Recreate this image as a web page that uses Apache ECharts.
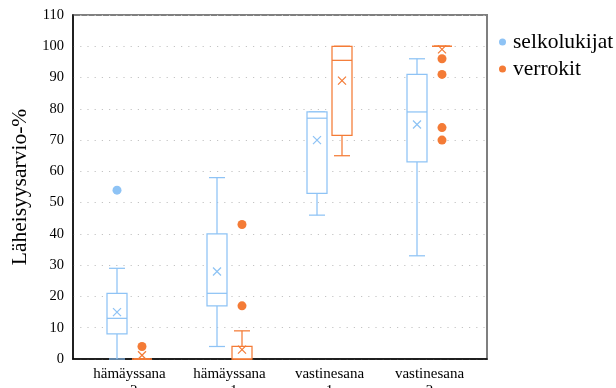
<!DOCTYPE html>
<html><head><meta charset="utf-8">
<script src="https://cdn.jsdelivr.net/npm/echarts@6/dist/echarts.min.js"></script>
<style>html,body{margin:0;padding:0;background:#fff}#c{width:616px;height:388px}</style>
</head><body><div id="c"></div>
<script>
// ---- data ----
const categories = ['hämäyssana\n−2', 'hämäyssana\n−1', 'vastinesana\n1', 'vastinesana\n2'];
const seriesNames = ['selkolukijat', 'verrokit'];
// [min, Q1, median, Q3, max]
const selkoBox = [[0, 8, 13, 21, 29], [4, 17, 21, 40, 58], [46, 53, 77, 79, 79], [33, 63, 79, 91, 96]];
const selkoMean = [15, 28, 70, 75];
const selkoOutliers = [[0, 54]];
const verrokitBox = [[0, 0, 0, 0, 0], [0, 0, 0, 4, 9], [65, 71.5, 95.5, 100, 100], [100, 100, 100, 100, 100]];
const verrokitMean = [1.2, 3, 89, 99];
const verrokitOutliers = [[0, 4], [1, 17], [1, 43], [3, 96], [3, 91], [3, 74], [3, 70]];
const yTicks = { min: 0, max: 110, interval: 10 };

// ---- style ----
const BLUE = '#8EC3F5', ORANGE = '#F47B36';
const FONT = '"Liberation Serif","Times New Roman",serif';

function boxData(box, mean) { return box.map((b, i) => [i].concat(b, [mean[i]])); }

function boxSeries(name, box, mean, color, offset) {
  return {
    type: 'custom', name: name, data: boxData(box, mean),
    encode: { x: 0, y: [1, 2, 3, 4, 5, 6] },
    itemStyle: { color: color },
    z: 2,
    renderItem: function (params, api) {
      const i = api.value(0);
      const pt = k => api.coord([i, api.value(k)]);
      const pMin = pt(1), pQ1 = pt(2), pMed = pt(3), pQ3 = pt(4), pMax = pt(5), pMean = pt(6);
      const x = pMin[0] + offset;
      const hw = 10, cw = 8, mw = 4;
      const ls = { stroke: color, lineWidth: 1.25, fill: null };
      return {
        type: 'group', children: [
          { type: 'line', shape: { x1: x, y1: pQ3[1], x2: x, y2: pMax[1] }, style: ls },
          { type: 'line', shape: { x1: x, y1: pQ1[1], x2: x, y2: pMin[1] }, style: ls },
          { type: 'line', shape: { x1: x - cw, y1: pMax[1], x2: x + cw, y2: pMax[1] }, style: ls },
          { type: 'line', shape: { x1: x - cw, y1: pMin[1], x2: x + cw, y2: pMin[1] }, style: ls },
          { type: 'rect', shape: { x: x - hw, y: pQ3[1], width: 2 * hw, height: pQ1[1] - pQ3[1] }, style: { stroke: color, lineWidth: 1.25, fill: '#fff' } },
          { type: 'line', shape: { x1: x - hw, y1: pMed[1], x2: x + hw, y2: pMed[1] }, style: ls },
          { type: 'line', shape: { x1: x - mw, y1: pMean[1] - mw, x2: x + mw, y2: pMean[1] + mw }, style: ls },
          { type: 'line', shape: { x1: x - mw, y1: pMean[1] + mw, x2: x + mw, y2: pMean[1] - mw }, style: ls }
        ]
      };
    }
  };
}
function outlierSeries(name, data, color, offset) {
  return {
    type: 'scatter', name: name, data: data, symbol: 'circle', symbolSize: 9,
    symbolOffset: [offset, 0], itemStyle: { color: color, opacity: 1 }, z: 3, silent: true
  };
}

const chart = echarts.init(document.getElementById('c'), null, { renderer: 'canvas' });
chart.setOption({
  animation: false,
  backgroundColor: '#fff',
  textStyle: { fontFamily: FONT },
  grid: { left: 73, top: 15, width: 414, height: 344, outerBoundsMode: 'none', containLabel: false,
          show: true, borderColor: '#7f7f7f', borderWidth: 2, backgroundColor: 'transparent' },
  legend: {
    orient: 'vertical', left: 494, top: 26, itemWidth: 7, itemHeight: 7, itemGap: 5,
    textStyle: { fontFamily: FONT, fontSize: 21.5, color: '#000', padding: [0, 0, 0, 2] },
    data: [
      { name: seriesNames[0], icon: 'circle', itemStyle: { color: BLUE } },
      { name: seriesNames[1], icon: 'circle', itemStyle: { color: ORANGE } }
    ]
  },
  xAxis: {
    type: 'value', min: -0.565, max: 3.575,
    axisLine: { show: true, onZero: false, lineStyle: { color: '#000', width: 1.5 } },
    axisTick: { show: false },
    splitLine: { show: false },
    axisLabel: {
      customValues: [0, 1, 2, 3],
      formatter: v => categories[Math.round(v)] || '',
      fontFamily: FONT, fontSize: 15, color: '#000', margin: 7, lineHeight: 17
    }
  },
  yAxis: {
    type: 'value', min: yTicks.min, max: yTicks.max, interval: yTicks.interval,
    name: 'Läheisyysarvio-%', nameLocation: 'middle', nameRotate: 90, nameGap: 42,
    nameTextStyle: { fontFamily: FONT, fontSize: 21.5, color: '#000' },
    axisLine: { show: true, onZero: false, lineStyle: { color: '#000', width: 1.5 } },
    axisTick: { show: false },
    axisLabel: { fontFamily: FONT, fontSize: 14.5, color: '#000', margin: 9 },
    splitLine: { show: true, lineStyle: { color: '#c4c4c4', width: 1.2, type: [1.2, 6] } }
  },
  series: [
    boxSeries(seriesNames[0], selkoBox, selkoMean, BLUE, -12.5),
    boxSeries(seriesNames[1], verrokitBox, verrokitMean, ORANGE, 12.5),
    outlierSeries(seriesNames[0], selkoOutliers, BLUE, -12.5),
    outlierSeries(seriesNames[1], verrokitOutliers, ORANGE, 12.5)
  ]
});
</script></body></html>
